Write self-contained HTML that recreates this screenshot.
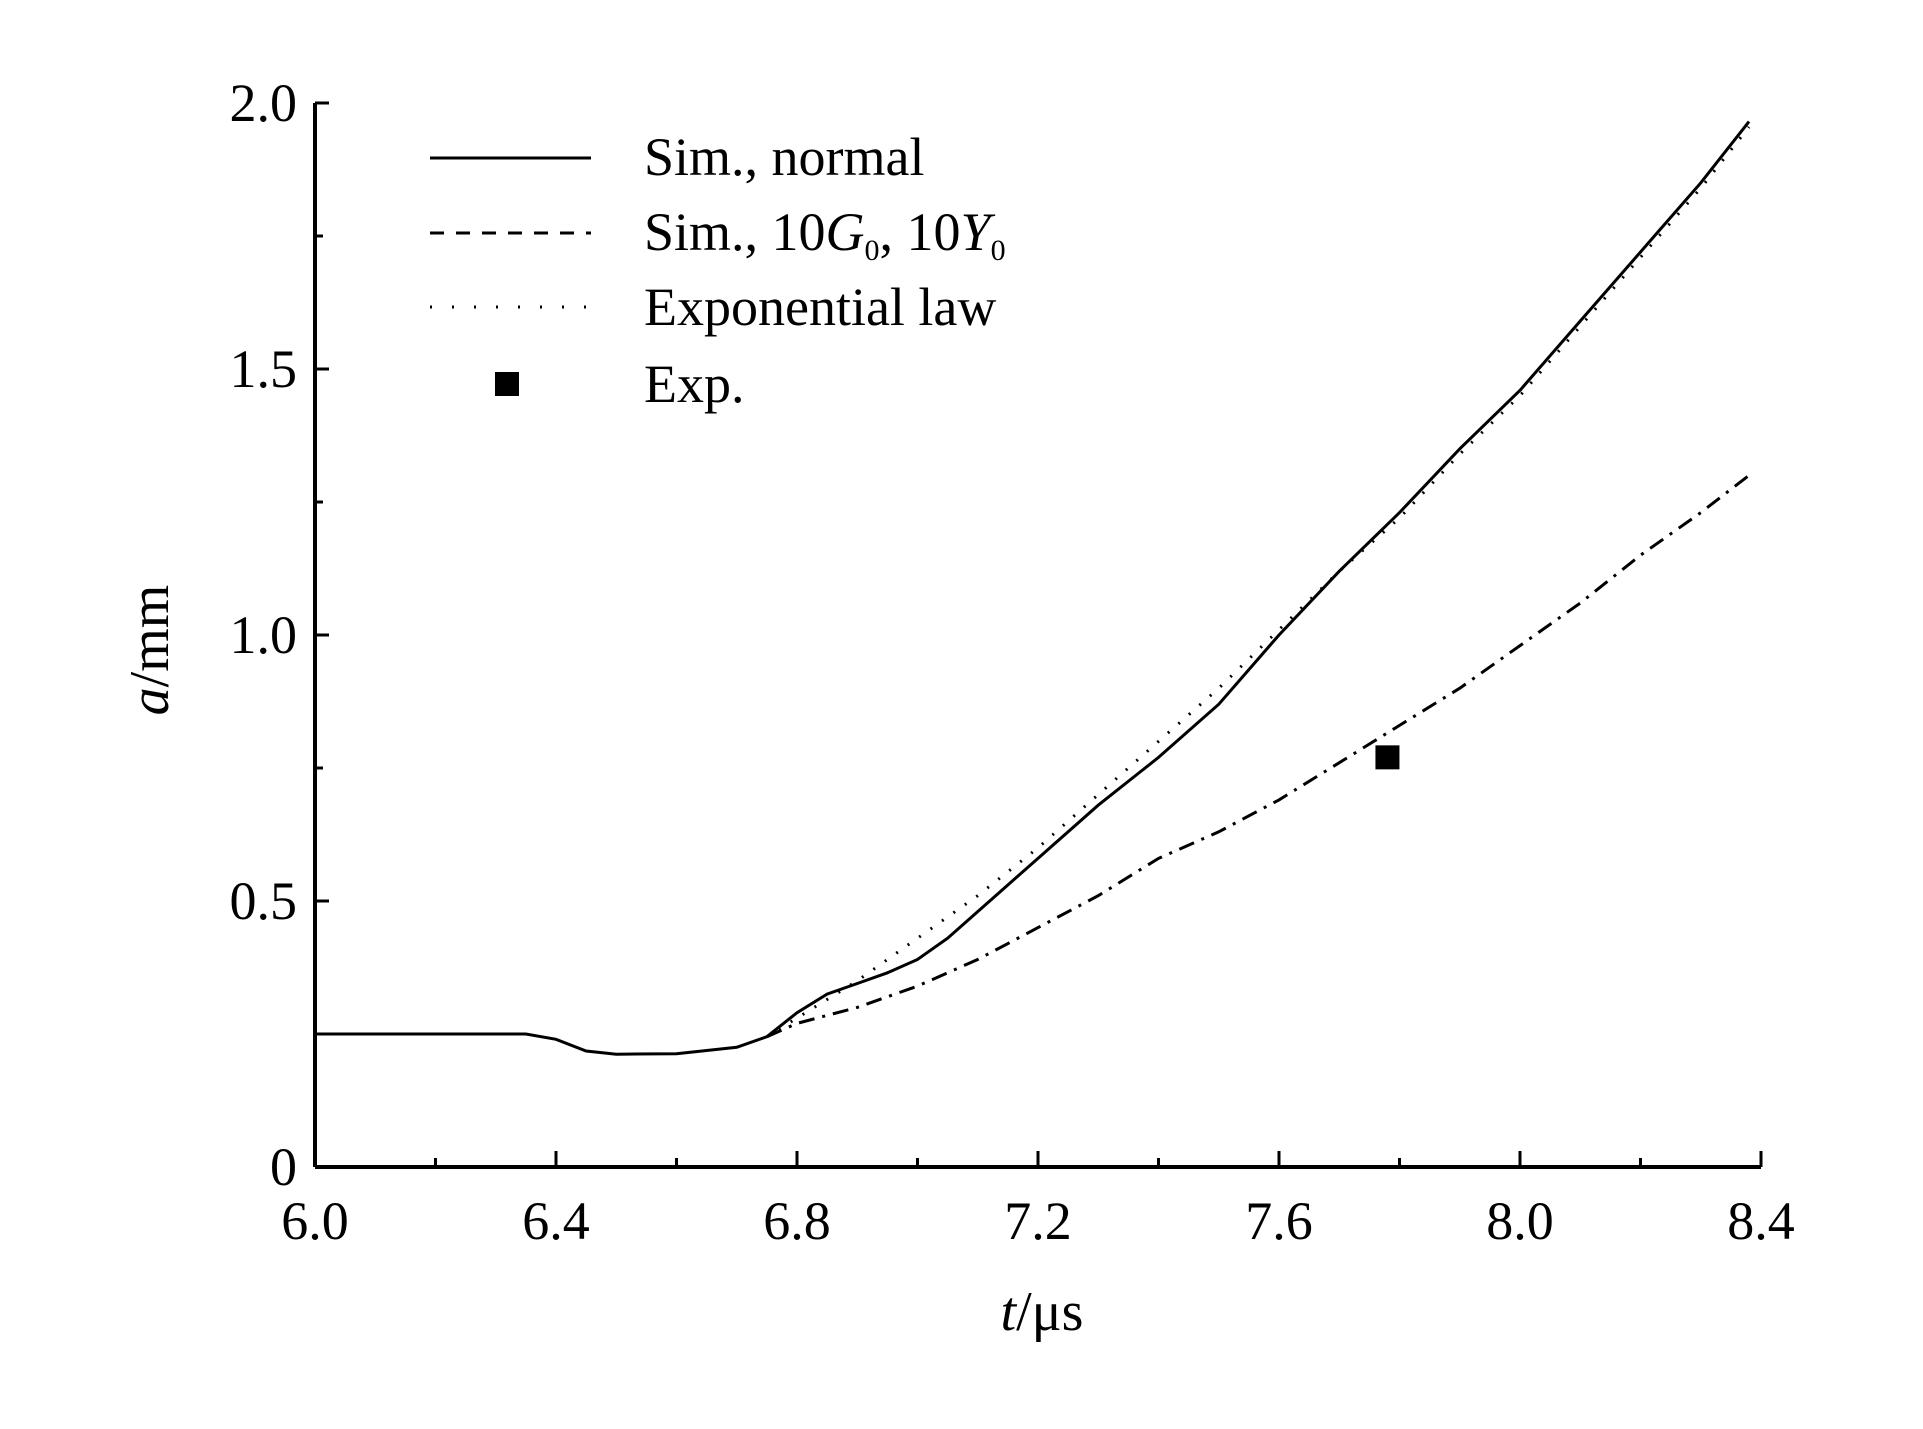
<!DOCTYPE html>
<html><head><meta charset="utf-8"><style>
body{margin:0;background:#fff}
svg{display:block}
text{font-family:"Liberation Serif",serif;fill:#000}
</style></head><body>
<svg id="chart" width="1923" height="1429">
<g id="axes"></g><g id="series"></g>
<g>
<line x1="430" y1="158" x2="591" y2="158" stroke="#000" stroke-width="3"/>
<text x="644" y="175" font-size="54">Sim., normal</text>
<line x1="430" y1="233" x2="591" y2="233" stroke="#000" stroke-width="3" stroke-dasharray="14,12"/>
<text x="644" y="250" font-size="54">Sim., 10<tspan font-style="italic">G</tspan><tspan font-size="30" dy="10">0</tspan><tspan dy="-10">, 10</tspan><tspan font-style="italic">Y</tspan><tspan font-size="30" dy="10">0</tspan></text>
<line x1="430" y1="307" x2="591" y2="307" stroke="#000" stroke-width="3" stroke-dasharray="2,20"/>
<text x="644" y="325" font-size="54">Exponential law</text>
<rect x="495" y="372" width="24" height="24" fill="#000"/>
<text x="644" y="402" font-size="54">Exp.</text>
</g>
<text x="1042" y="1330" font-size="56" text-anchor="middle"><tspan font-style="italic">t</tspan>/μs</text>
<text transform="translate(168,650) rotate(-90)" font-size="56" text-anchor="middle"><tspan font-style="italic">a</tspan>/mm</text>
</svg>
<script>
const xTicks=[6.0,6.4,6.8,7.2,7.6,8.0,8.4];
const xTickLabels=["6.0","6.4","6.8","7.2","7.6","8.0","8.4"];
const yTicks=[0,0.5,1.0,1.5,2.0];
const yTickLabels=["0","0.5","1.0","1.5","2.0"];
const normalT=[6.0,6.35,6.4,6.45,6.5,6.6,6.7,6.75,6.8,6.85,6.9,6.95,7.0,7.05,7.1,7.2,7.3,7.4,7.5,7.6,7.7,7.8,7.9,8.0,8.1,8.2,8.3,8.38];
const normalA=[0.25,0.25,0.24,0.218,0.212,0.213,0.225,0.245,0.29,0.325,0.345,0.365,0.39,0.43,0.48,0.58,0.68,0.77,0.87,1.0,1.12,1.23,1.35,1.46,1.59,1.72,1.85,1.965];
const stiffT=[6.75,6.8,6.9,7.0,7.1,7.2,7.3,7.4,7.5,7.6,7.7,7.8,7.9,8.0,8.1,8.2,8.3,8.38];
const stiffA=[0.245,0.27,0.30,0.34,0.39,0.45,0.51,0.58,0.63,0.69,0.76,0.83,0.90,0.98,1.06,1.15,1.23,1.30];
const expLawT=[6.75,6.8,6.9,7.0,7.1,7.2,7.3,7.4,7.5,7.6,7.7,7.8,7.9,8.0,8.1,8.2,8.3,8.38];
const expLawA=[0.245,0.28,0.35,0.43,0.51,0.60,0.70,0.80,0.90,1.01,1.12,1.22,1.34,1.45,1.58,1.71,1.84,1.955];
const expT=[7.78];
const expA=[0.77];
const X0=315,X1=1761,Y0=1167,Y1=103;
const sx=t=>X0+(t-6.0)/(8.4-6.0)*(X1-X0);
const sy=a=>Y0-a/2.0*(Y0-Y1);
const NS="http://www.w3.org/2000/svg";
const axes=document.getElementById('axes'),series=document.getElementById('series');
function mk(tag,attrs,parent){const e=document.createElementNS(NS,tag);for(const k in attrs)e.setAttribute(k,attrs[k]);parent.appendChild(e);return e;}
let e=mk('line',{x1:X0,y1:Y0,x2:X1,y2:Y0,stroke:'#000','stroke-width':4},axes);


e=mk('line',{x1:X0,y1:Y0,x2:X0,y2:Y1,stroke:'#000','stroke-width':4},axes);


for(let i=0;i<xTicks.length;i++){
 const x=sx(xTicks[i]);
 e=mk('line',{x1:x,y1:Y0,x2:x,y2:Y0-16,stroke:'#000','stroke-width':3},axes);
 
 
 e=mk('text',{x:x,y:Y0+72,'font-size':54,'text-anchor':'middle'},axes);e.textContent=xTickLabels[i];
 
 
 if(i<xTicks.length-1){const xm=sx(xTicks[i]+0.2);
 e=mk('line',{x1:xm,y1:Y0,x2:xm,y2:Y0-9,stroke:'#000','stroke-width':3},axes);
 
 }
}
for(let i=0;i<yTicks.length;i++){
 const y=sy(yTicks[i]);
 e=mk('line',{x1:X0,y1:y,x2:X0+14,y2:y,stroke:'#000','stroke-width':3},axes);
 
 
 e=mk('text',{x:X0-18,y:y+18,'font-size':54,'text-anchor':'end'},axes);e.textContent=yTickLabels[i];
 
 
 if(i<yTicks.length-1){const ym=sy(yTicks[i]+0.25);
 e=mk('line',{x1:X0,y1:ym,x2:X0+8,y2:ym,stroke:'#000','stroke-width':3},axes);
 
 }
}
function path(T,A){return T.map((t,i)=>(i?'L':'M')+sx(t).toFixed(1)+','+sy(A[i]).toFixed(1)).join('');}
e=mk('path',{d:path(expLawT,expLawA),fill:'none',stroke:'#000','stroke-width':3,'stroke-dasharray':'2,12'},series);


e=mk('path',{d:path(stiffT,stiffA),fill:'none',stroke:'#000','stroke-width':3,'stroke-dasharray':'16,8,3,8'},series);


e=mk('path',{d:path(normalT,normalA),fill:'none',stroke:'#000','stroke-width':3},series);


for(let i=0;i<expT.length;i++){
 e=mk('rect',{x:sx(expT[i])-12,y:sy(expA[i])-12,width:24,height:24,fill:'#000'},series);
 
 
}
</script>
</body></html>
